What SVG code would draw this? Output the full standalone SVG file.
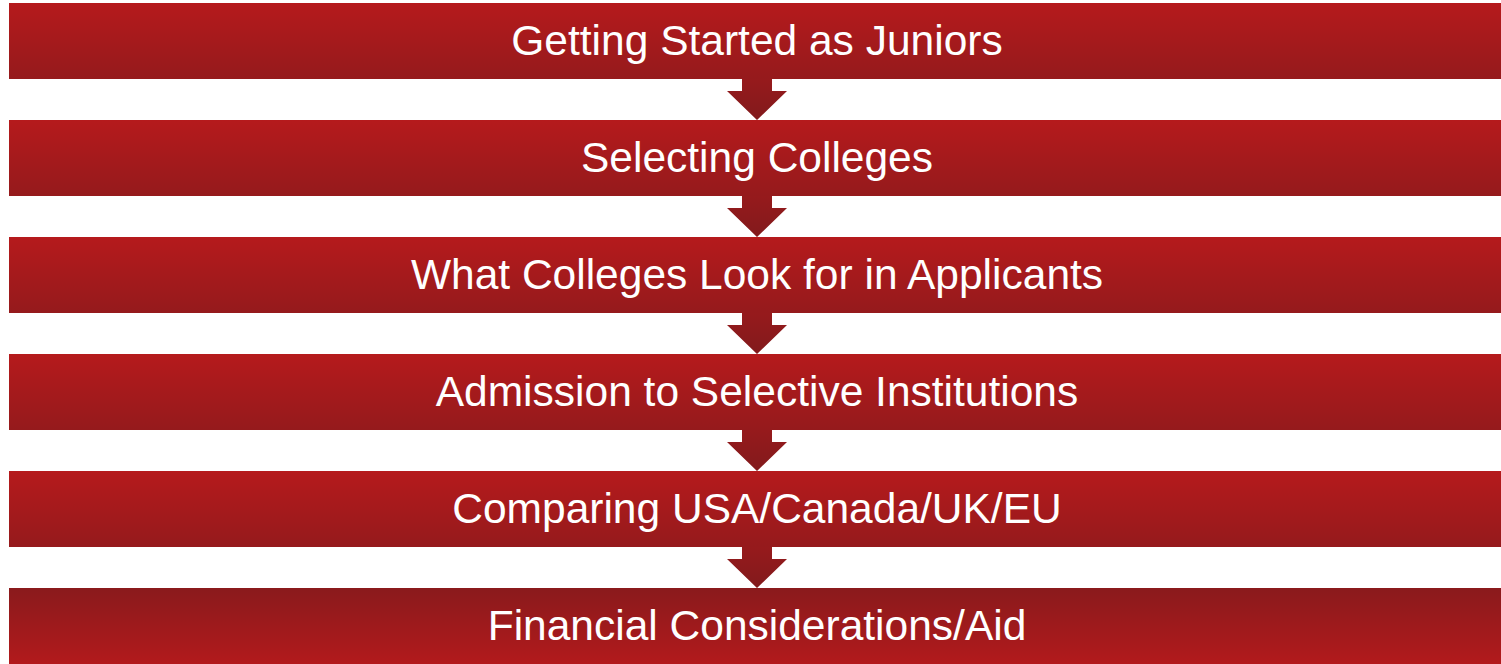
<svg xmlns="http://www.w3.org/2000/svg" width="1501" height="664" viewBox="0 0 1501 664">
<defs>
<linearGradient id="g" x1="0" y1="0" x2="0" y2="1"><stop offset="0" stop-color="#B51A1C"/><stop offset="1" stop-color="#951A1C"/></linearGradient>
<linearGradient id="gr" x1="0" y1="0" x2="0" y2="1"><stop offset="0" stop-color="#8A1A1C"/><stop offset="1" stop-color="#B21A1C"/></linearGradient>
<linearGradient id="ga" x1="0" y1="0" x2="0" y2="1"><stop offset="0" stop-color="#981A1C"/><stop offset="1" stop-color="#821A1C"/></linearGradient>
</defs>
<style>
.box{fill:url(#g)}
.box2{fill:url(#gr)}
.arr{fill:url(#ga)}
text{font-family:"Liberation Sans",Arial,sans-serif;font-size:42.5px;fill:#fff;text-anchor:middle}
</style>
<g id="connectors">
<polygon class="arr" points="742,75 772,75 772,91 787,91 757,120 727,91 742,91"/>
<polygon class="arr" points="742,192 772,192 772,208 787,208 757,237 727,208 742,208"/>
<polygon class="arr" points="742,309 772,309 772,325 787,325 757,354 727,325 742,325"/>
<polygon class="arr" points="742,426 772,426 772,442 787,442 757,471 727,442 742,442"/>
<polygon class="arr" points="742,543 772,543 772,559 787,559 757,588 727,559 742,559"/>
</g>
<g id="n1"><rect class="box" x="9" y="3" width="1492" height="76"/><text x="757" y="54.5">Getting Started as Juniors</text></g>
<g id="n2"><rect class="box" x="9" y="120" width="1492" height="76"/><text x="757" y="171.5">Selecting Colleges</text></g>
<g id="n3"><rect class="box" x="9" y="237" width="1492" height="76"/><text x="757" y="288.5">What Colleges Look for in Applicants</text></g>
<g id="n4"><rect class="box" x="9" y="354" width="1492" height="76"/><text x="757" y="405.5">Admission to Selective Institutions</text></g>
<g id="n5"><rect class="box" x="9" y="471" width="1492" height="76"/><text x="757" y="522.5">Comparing USA/Canada/UK/EU</text></g>
<g id="n6"><rect class="box2" x="9" y="588" width="1492" height="76"/><text x="757" y="639.5">Financial Considerations/Aid</text></g>
</svg>
